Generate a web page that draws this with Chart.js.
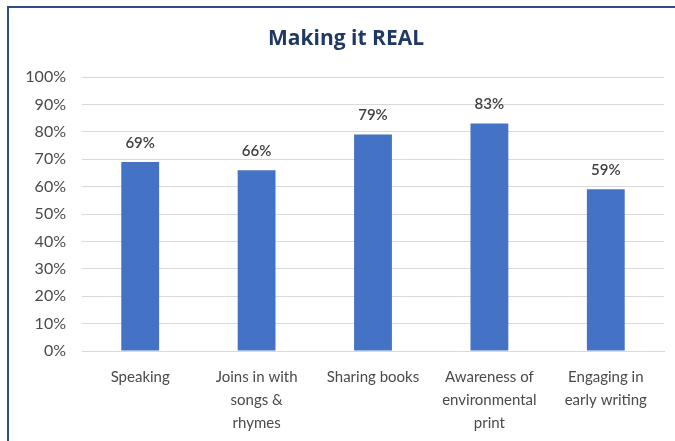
<!DOCTYPE html>
<html><head><meta charset="utf-8">
<script src="https://cdn.jsdelivr.net/npm/chart.js@4/dist/chart.umd.min.js"></script>
<style>
html,body{margin:0;padding:0;background:#fff;overflow:hidden}
#frame{position:absolute;left:7px;top:6px;width:720px;height:480px;border-left:2px solid #2F4D8A;border-top:2px solid #2F4D8A}
#wrap{position:absolute;left:0;top:0;width:675px;height:441px}
</style></head>
<body>
<div id="frame"></div>
<div id="wrap"><canvas id="c" width="675" height="441"></canvas></div>
<script>
const chartTitle = "Making it REAL";
const categories = [["Speaking"], ["Joins in with","songs &","rhymes"], ["Sharing books"], ["Awareness of","environmental","print"], ["Engaging in","early writing"]];
const values = [69, 66, 79, 83, 59];
const yTicks = [0,10,20,30,40,50,60,70,80,90,100];

const FONT = "Lato, 'Open Sans', sans-serif";

const labelPlugin = {
  id: 'barLabels',
  afterDatasetsDraw(chart) {
    const ctx = chart.ctx;
    const meta = chart.getDatasetMeta(0);
    ctx.save();
    ctx.font = "600 15px " + FONT;
    ctx.fillStyle = "#404040";
    ctx.textAlign = "center";
    ctx.textBaseline = "middle";
    meta.data.forEach((bar, i) => {
      ctx.fillText(values[i] + "%", bar.x, bar.y - 19);
    });
    ctx.restore();
  }
};
const titlePlugin = {
  id: 'customTitle',
  afterDraw(chart) {
    const ctx = chart.ctx;
    ctx.save();
    ctx.font = "bold 21px 'Open Sans', sans-serif";
    ctx.fillStyle = "#1F3864";
    ctx.textAlign = "center";
    ctx.textBaseline = "middle";
    ctx.fillText(chartTitle, 346, 39);
    ctx.restore();
  }
};

new Chart(document.getElementById('c'), {
  type: 'bar',
  data: {
    labels: categories,
    datasets: [{ data: values, backgroundColor: '#4472C4', barPercentage: 0.65, categoryPercentage: 0.5 }]
  },
  options: {
    responsive: false,
    animation: false,
    layout: { padding: { left: 10, right: 11, top: 77, bottom: 0 } },
    plugins: { legend: { display: false }, tooltip: { enabled: false }, title: { display: false } },
    scales: {
      x: {
        grid: { display: false, drawTicks: false },
        border: { display: true, color: '#D9D9D9', width: 1 },
        ticks: { color: '#4A4A4A', font: { family: FONT, size: 15, lineHeight: 1.53 }, padding: 15, maxRotation: 0, autoSkip: false },
        afterFit(s) { s.height = 90; }
      },
      y: {
        min: 0, max: 100,
        afterBuildTicks(s) { s.ticks = yTicks.map(v => ({ value: v })); },
        grid: { color: '#D9D9D9', drawTicks: false },
        border: { display: false },
        ticks: { color: '#4A4A4A', font: { family: FONT, size: 16 }, padding: 16, callback: v => v + '%' },
        afterFit(s) { s.width = 72; }
      }
    }
  },
  plugins: [labelPlugin, titlePlugin]
});
</script>
</body></html>
